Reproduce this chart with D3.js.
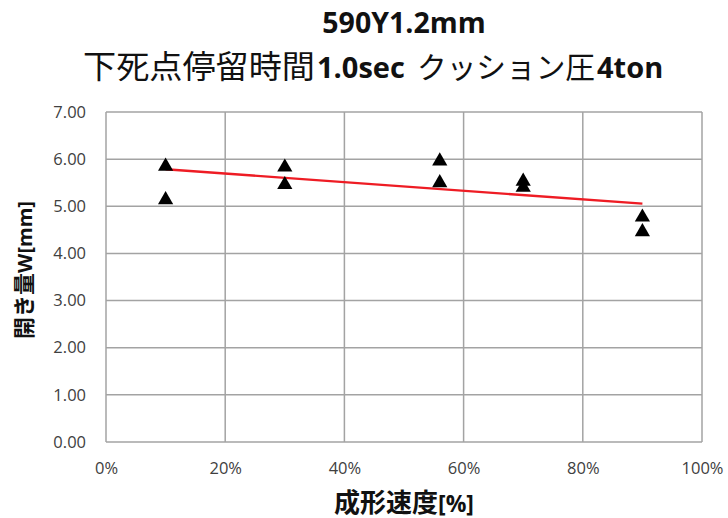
<!DOCTYPE html>
<html>
<head>
<meta charset="utf-8">
<script src="https://cdn.jsdelivr.net/npm/d3@7/dist/d3.min.js"></script>
<style>
  html, body { margin: 0; padding: 0; background: #fff; }
  svg { display: block; }
</style>
</head>
<body>
<svg id="chart" width="728" height="518"></svg>
<script>
// Forming speed [%] for each measured sample
const speeds = [10, 10, 30, 30, 56, 56, 70, 70, 90, 90];
// Opening amount W [mm] measured at each speed
const openings = [5.87, 5.16, 5.85, 5.48, 5.98, 5.52, 5.55, 5.42, 4.79, 4.48];

const xTicks = [0, 20, 40, 60, 80, 100];
const yTicks = [0, 1, 2, 3, 4, 5, 6, 7];

const titleLine1 = "590Y1.2mm";
const titleLine2 = [
  { t: "下死点停留時間", bold: false, x: 83, size: 32, len: 232 },
  { t: "1.0sec", bold: true, x: 317, size: 29, len: null },
  { t: "クッション圧", bold: false, x: 417, size: 30, len: 178 },
  { t: "4ton", bold: true, x: 597, size: 29, len: null }
];
const xTitle = [{ t: "成形速度", bold: false }, { t: "[%]", bold: true }];
const yTitle = [{ t: "開き量", bold: false }, { t: "W[mm]", bold: true }];

const svg = d3.select("#chart");
const plot = { left: 106, right: 702, top: 112, bottom: 442 };

const x = d3.scaleLinear().domain([0, 100]).range([plot.left, plot.right]);
const y = d3.scaleLinear().domain([0, 7]).range([plot.bottom, plot.top]);

const font = "'Open Sans', 'Noto Sans CJK JP', sans-serif";
const cjk = "'Noto Sans CJK JP', sans-serif";

// gridlines
svg.append("g").selectAll("line").data(yTicks).join("line")
  .attr("x1", plot.left).attr("x2", plot.right)
  .attr("y1", d => y(d)).attr("y2", d => y(d))
  .attr("stroke", "#a3a3a3").attr("stroke-width", 1.5);
svg.append("g").selectAll("line").data(xTicks).join("line")
  .attr("y1", plot.top).attr("y2", plot.bottom)
  .attr("x1", d => x(d)).attr("x2", d => x(d))
  .attr("stroke", "#a3a3a3").attr("stroke-width", 1.5);

// axes (labels only)
const yAxis = d3.axisLeft(y).tickValues(yTicks).tickFormat(d3.format(".2f")).tickSize(0).tickPadding(20);
const gy = svg.append("g").attr("transform", `translate(${plot.left},0)`).call(yAxis);
gy.select(".domain").remove();
gy.selectAll("text").attr("font-family", font).attr("font-size", 16.5).attr("fill", "#404040");

const xAxis = d3.axisBottom(x).tickValues(xTicks).tickFormat(d => d + "%").tickSize(0).tickPadding(20);
const gx = svg.append("g").attr("transform", `translate(0,${plot.bottom})`).call(xAxis);
gx.select(".domain").remove();
gx.selectAll("text").attr("font-family", font).attr("font-size", 16.5).attr("fill", "#404040");

// linear trendline from least squares
const mx = d3.mean(speeds), my = d3.mean(openings);
let sxy = 0, sxx = 0;
speeds.forEach((s, i) => { sxy += (s - mx) * (openings[i] - my); sxx += (s - mx) * (s - mx); });
const slope = sxy / sxx, icpt = my - slope * mx;
const [x0, x1] = d3.extent(speeds);
svg.append("line")
  .attr("x1", x(x0)).attr("y1", y(icpt + slope * x0))
  .attr("x2", x(x1)).attr("y2", y(icpt + slope * x1))
  .attr("stroke", "#ee1c24").attr("stroke-width", 2.4);

// triangle markers
const tri = d3.symbol().type(d3.symbolTriangle).size(100);
svg.append("g").selectAll("path").data(speeds).join("path")
  .attr("d", tri)
  .attr("transform", (d, i) => `translate(${x(d)},${y(openings[i]) + 1})`)
  .attr("fill", "#000");

// titles
svg.append("text").attr("x", 404).attr("y", 33).attr("text-anchor", "middle")
  .attr("font-family", font).attr("font-size", 28.5).attr("font-weight", "bold").attr("fill", "#111")
  .text(titleLine1);
const t2 = svg.append("g").attr("fill", "#111");
t2.selectAll("text").data(titleLine2).join("text")
  .attr("x", d => d.x).attr("y", 78)
  .attr("font-family", d => d.bold ? font : cjk)
  .attr("font-weight", d => d.bold ? "bold" : "normal")
  .attr("font-size", d => d.size)
  .each(function (d) {
    if (d.len) d3.select(this).attr("textLength", d.len).attr("lengthAdjust", "spacingAndGlyphs");
  })
  .text(d => d.t);

const xt = svg.append("text").attr("x", 404).attr("y", 512).attr("text-anchor", "middle").attr("fill", "#111");
xt.selectAll("tspan").data(xTitle).join("tspan")
  .attr("font-family", d => d.bold ? font : cjk)
  .attr("font-weight", "bold")
  .attr("font-size", d => d.bold ? 23 : 26)
  .text(d => d.t);

const yt = svg.append("text").attr("transform", "translate(32,270) rotate(-90)").attr("text-anchor", "middle").attr("fill", "#111");
yt.selectAll("tspan").data(yTitle).join("tspan")
  .attr("font-family", d => d.bold ? font : cjk)
  .attr("font-weight", "bold")
  .attr("font-size", d => d.bold ? 20 : 22)
  .text(d => d.t);
</script>
</body>
</html>
